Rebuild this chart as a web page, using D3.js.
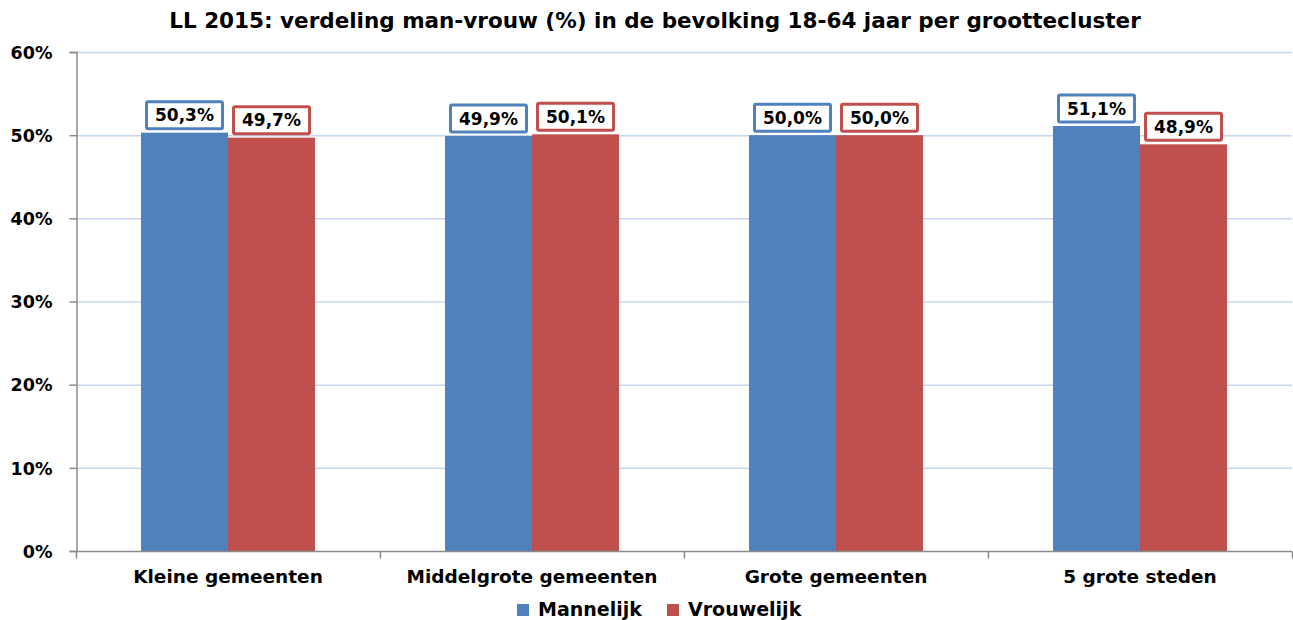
<!DOCTYPE html>
<html>
<head>
<meta charset="utf-8">
<script src="https://cdn.jsdelivr.net/npm/d3@7"></script>
<style>
	body { margin: 0; background: #fff; }
	svg text { font-family: 'DejaVu Sans', Verdana, sans-serif; font-weight: bold; fill: #000; }
</style>
</head>
<body>
<svg id="chart" width="1293" height="620"></svg>
<script>
var categories = ['Kleine gemeenten', 'Middelgrote gemeenten', 'Grote gemeenten', '5 grote steden'];
var seriesNames = ['Mannelijk', 'Vrouwelijk'];
var mannelijk = [50.3, 49.9, 50.0, 51.1];
var vrouwelijk = [49.7, 50.1, 50.0, 48.9];
var yTicks = [0, 10, 20, 30, 40, 50, 60];
var colors = ['#4f81bd', '#c0504d'];

var width = 1293, height = 620;
var margin = {top: 52, right: 1, bottom: 69, left: 76};
var svg = d3.select('#chart');

var x = d3.scaleBand()
	.domain(categories)
	.range([margin.left, width - margin.right])
	.paddingInner(0)
	.paddingOuter(0);

var xs = d3.scaleBand()
	.domain(seriesNames)
	.range([0, x.bandwidth()])
	.paddingInner(0)
	.paddingOuter(0.747);

var y = d3.scaleLinear()
	.domain([0, 60])
	.range([height - margin.bottom, margin.top]);

//Title
svg.append('text')
	.attr('x', 655)
	.attr('y', 28)
	.attr('text-anchor', 'middle')
	.style('font-size', '21.5px')
	.text('LL 2015: verdeling man-vrouw (%) in de bevolking 18-64 jaar per grootteclus­ter'.replace('\u00ad', ''));

//Gridlines
svg.append('g')
	.selectAll('line')
	.data(yTicks.filter(d => d > 0))
	.enter().append('line')
		.attr('x1', margin.left)
		.attr('x2', width - margin.right)
		.attr('y1', d => y(d) + 0.5)
		.attr('y2', d => y(d) + 0.5)
		.attr('stroke', '#c6d6ee')
		.attr('stroke-width', 1.5);

//Y axis
var yAxis = d3.axisLeft(y)
	.tickValues(yTicks)
	.tickFormat(d => d + '%')
	.tickSize(7)
	.tickPadding(17);

svg.append('g')
	.attr('transform', 'translate(' + (margin.left + 0.5) + ',0)')
	.call(yAxis)
	.call(g => g.selectAll('path, line').attr('stroke', '#8c8c8c').attr('stroke-width', 1.5))
	.call(g => g.selectAll('text').style('font-size', '17.5px').attr('dy', '0.36em'));

//Bars
var groups = svg.append('g')
	.selectAll('g')
	.data(categories)
	.enter().append('g')
		.attr('transform', d => 'translate(' + x(d) + ',0)');

var values = [mannelijk, vrouwelijk];

groups.each(function(cat, i) {
	var g = d3.select(this);
	seriesNames.forEach(function(s, j) {
		var v = values[j][i];
		g.append('rect')
			.attr('x', xs(s))
			.attr('width', xs.bandwidth())
			.attr('y', y(v))
			.attr('height', y(0) - y(v))
			.attr('fill', colors[j]);

		var cx = xs(s) + xs.bandwidth() / 2;
		var boxW = 76, boxH = 27;
		g.append('rect')
			.attr('x', cx - boxW / 2)
			.attr('y', y(v) - 4 - boxH)
			.attr('width', boxW)
			.attr('height', boxH)
			.attr('rx', 1.5)
			.attr('fill', '#fff')
			.attr('stroke', colors[j])
			.attr('stroke-width', 3);

		g.append('text')
			.attr('x', cx)
			.attr('y', y(v) - 4 - boxH / 2)
			.attr('dy', '0.36em')
			.attr('text-anchor', 'middle')
			.style('font-size', '17px')
			.text(v.toFixed(1).replace('.', ',') + '%');
	});
});

//X axis
var xAxisG = svg.append('g')
	.attr('transform', 'translate(0,' + (y(0) + 0.5) + ')');

xAxisG.append('line')
	.attr('x1', margin.left)
	.attr('x2', width - margin.right)
	.attr('stroke', '#8c8c8c')
	.attr('stroke-width', 1.5);

xAxisG.selectAll('.tick')
	.data(categories.map(d => x(d)).concat([width - margin.right]))
	.enter().append('line')
		.attr('x1', d => d + 0.5)
		.attr('x2', d => d + 0.5)
		.attr('y1', 0)
		.attr('y2', 7)
		.attr('stroke', '#8c8c8c')
		.attr('stroke-width', 1.5);

xAxisG.selectAll('text')
	.data(categories)
	.enter().append('text')
		.attr('x', d => x(d) + x.bandwidth() / 2)
		.attr('y', 31)
		.attr('text-anchor', 'middle')
		.style('font-size', '18.5px')
		.text(d => d);

//Legend
var legendPos = [517, 667];
var legend = svg.append('g');
seriesNames.forEach(function(s, j) {
	legend.append('rect')
		.attr('x', legendPos[j])
		.attr('y', 604)
		.attr('width', 12)
		.attr('height', 12)
		.attr('fill', colors[j]);
	legend.append('text')
		.attr('x', legendPos[j] + 21)
		.attr('y', 616)
		.style('font-size', '19px')
		.text(s);
});
</script>
</body>
</html>
